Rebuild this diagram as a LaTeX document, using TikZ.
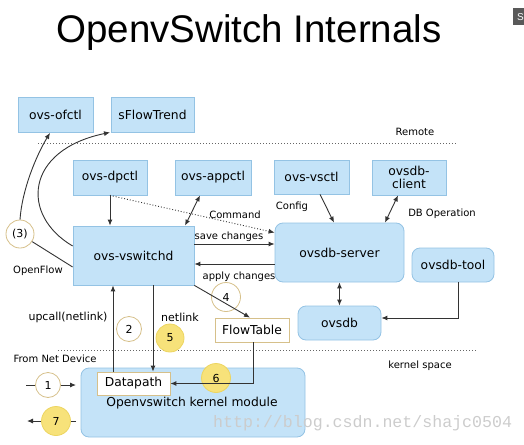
\documentclass[tikz,border=0pt]{standalone}
\usepackage{fontspec}
\setmainfont{DejaVu Sans}
\newfontfamily\titlefont{Liberation Sans}
\newfontfamily\wmfont{Liberation Mono}
\usetikzlibrary{arrows.meta,calc}
\definecolor{boxfill}{HTML}{C4E3F8}
\definecolor{boxdraw}{HTML}{94C3E4}
\definecolor{tanc}{HTML}{D6C08A}
\definecolor{yel}{HTML}{F7E27A}
\definecolor{yeld}{HTML}{EDD560}
\definecolor{lnc}{HTML}{333333}
\tikzset{
  box/.style={draw=boxdraw, fill=boxfill, line width=0.8pt, inner sep=0pt,
    font=\fontsize{12.3}{13.5}\selectfont, align=center},
  rbox/.style={box, rounded corners=8pt},
  wbox/.style={draw=tanc, fill=white, line width=0.8pt, inner sep=0pt,
    font=\fontsize{12.3}{13.5}\selectfont},
  num/.style={circle, draw=tanc, line width=0.8pt, fill=white, inner sep=0pt,
    font=\fontsize{11}{12}\selectfont},
  ynum/.style={num, draw=yeld, fill=yel},
  lbl/.style={inner sep=0pt, font=\fontsize{10}{12}\selectfont},
  arr/.style={draw=lnc, line width=0.9pt, -{Latex[length=6pt,width=5pt]}},
  darr/.style={draw=lnc, line width=0.9pt, {Latex[length=6pt,width=5pt]}-{Latex[length=6pt,width=5pt]}},
  plain/.style={draw=lnc, line width=0.9pt},
  sep/.style={draw=black!60, line width=0.6pt, dash pattern=on 1pt off 2pt},
}
\begin{document}
\begin{tikzpicture}[x=1pt,y=-1pt]
\useasboundingbox (0,0) rectangle (524,444);
% title
\node[anchor=base, inner sep=0pt, font=\titlefont\fontsize{38.5}{40}\selectfont] (title) at (249,43) {OpenvSwitch Internals};
\fill[black!65] (513,8) rectangle (524,25);
\node[anchor=west, inner sep=0pt, text=white, font=\titlefont\fontsize{10}{10}\selectfont] (sart) at (517,17) {S};

% separators
\draw[sep] (38,143) -- (457,143);
\draw[sep] (58,350) -- (477,350);
\node[lbl] (remote) at (415,132) {Remote};
\node[lbl] (kspace) at (420,366) {kernel space};

% boxes
\node[box, minimum width=75pt, minimum height=35pt] (ofctl) at (55.5,115) {ovs-ofctl};
\node[box, minimum width=83pt, minimum height=35pt] (sflow) at (152.5,114.5) {sFlowTrend};
\node[box, minimum width=74pt, minimum height=35pt] (dpctl) at (110,177.5) {ovs-dpctl};
\node[box, minimum width=76pt, minimum height=35pt] (appctl) at (213,177.5) {ovs-appctl};
\node[box, minimum width=75pt, minimum height=34pt] (vsctl) at (311.5,177) {ovs-vsctl};
\node[box, minimum width=74pt, minimum height=35pt] (client) at (409,177.5) {ovsdb-\\client};
\node[box, minimum width=121pt, minimum height=59pt] (vswitchd) at (133.5,255.5) {ovs-vswitchd};
\node[rbox, minimum width=129pt, minimum height=59pt] (server) at (339.5,252.5) {ovsdb-server};
\node[rbox, minimum width=82pt, minimum height=34pt] (tool) at (453,265) {ovsdb-tool};
\node[rbox, minimum width=83pt, minimum height=34pt] (ovsdb) at (339.5,323) {ovsdb};
\node[wbox, minimum width=74pt, minimum height=24pt] (flowtable) at (252,330) {FlowTable};
\node[rbox, minimum width=224pt, minimum height=69pt] (kernel) at (193,402.5) {};
\node[inner sep=0pt, font=\fontsize{12.3}{13.5}\selectfont] (ktext) at (192,403) {Openvswitch kernel module};
\node[wbox, minimum width=73pt, minimum height=23pt] (datapath) at (133.5,383.5) {Datapath};

% watermark
\node[anchor=west, inner sep=0pt, text=black!20, font=\wmfont\fontsize{16.6}{18}\selectfont] (wm) at (213,423) {http://blog.csdn.net/shajc0504};

% numbered circles
\node[num, minimum size=28pt] (c3) at (20,234) {(3)};
\node[num, minimum size=29pt] (c4) at (226,297) {4};
\node[num, minimum size=25pt] (c2) at (129,329) {2};
\node[ynum, minimum size=28pt] (c5) at (170,338) {5};
\node[ynum, minimum size=29pt] (c6) at (216,378) {6};
\node[num, minimum size=25pt] (c1) at (48,385) {1};
\node[ynum, minimum size=29pt] (c7) at (56,421) {7};

% labels
\node[lbl] (lcmd) at (235,215) {Command};
\node[lbl] (lsave) at (229,237) {save changes};
\node[lbl] (lapply) at (239,277) {apply changes};
\node[lbl] (lconfig) at (292,207) {Config};
\node[lbl] (ldbop) at (442,214) {DB Operation};
\node[lbl] (lof) at (38,271) {OpenFlow};
\node[lbl, font=\fontsize{11}{12}\selectfont] (lup) at (68,317) {upcall(netlink)};
\node[lbl, font=\fontsize{11}{12}\selectfont] (lnet) at (180,317) {netlink};
\node[lbl] (lfrom) at (55,359) {From Net Device};

% connectors
\draw[arr] (dpctl.south) -- (dpctl.south |- vswitchd.north);
\draw[arr, dotted] (dpctl.south) -- ([yshift=-10pt]server.north west);
\draw[darr] ([xshift=-13pt]appctl.south) -- ([xshift=51.5pt]vswitchd.north);
\draw[arr] ([xshift=8.5pt]vsctl.south) -- ([xshift=-5.5pt]server.north);
\draw[darr] ([xshift=-11pt]client.south) -- ([xshift=45.5pt]server.north);
\draw[arr] ([yshift=11.5pt]vswitchd.east) -- ([yshift=8.5pt]server.west);
\draw[arr] ([yshift=-11.5pt]server.west) -- ([yshift=-8.5pt]vswitchd.east);
\draw[darr] (server.south) -- (ovsdb.north);
\draw[arr] ([xshift=5pt]tool.south) |- ([yshift=5pt]ovsdb.east);
\draw[arr] (vswitchd.south east) -- ([xshift=-2pt]flowtable.north);
\draw[arr] ([xshift=1pt]flowtable.south) |- (datapath.east);
\draw[arr] ([xshift=-20.5pt]datapath.north) -- ([xshift=-20.5pt]vswitchd.south);
\draw[arr] ([xshift=19.5pt]vswitchd.south) -- ([xshift=19.5pt]datapath.north);
\draw[plain] (c3) -- ([yshift=-11.5pt]vswitchd.west);
\draw[arr] (c3.north) .. controls (22,190) and (36,156) .. ([xshift=-5.5pt]ofctl.south);
\draw[arr] ([yshift=9.5pt]vswitchd.west) .. controls (20,215) and (25,150) .. ([xshift=-42.5pt]sflow.south);
\coordinate (in0) at (26,385);
\coordinate (in1) at (76,385);
\coordinate (o7r) at (76,421);
\coordinate (o7l) at (27,421);
\draw[plain] (in0) -- (c1);
\draw[arr] (c1) -- (in1);
\draw[plain] (o7r) -- (c7);
\draw[arr] (c7) -- (o7l);
\end{tikzpicture}
\end{document}
